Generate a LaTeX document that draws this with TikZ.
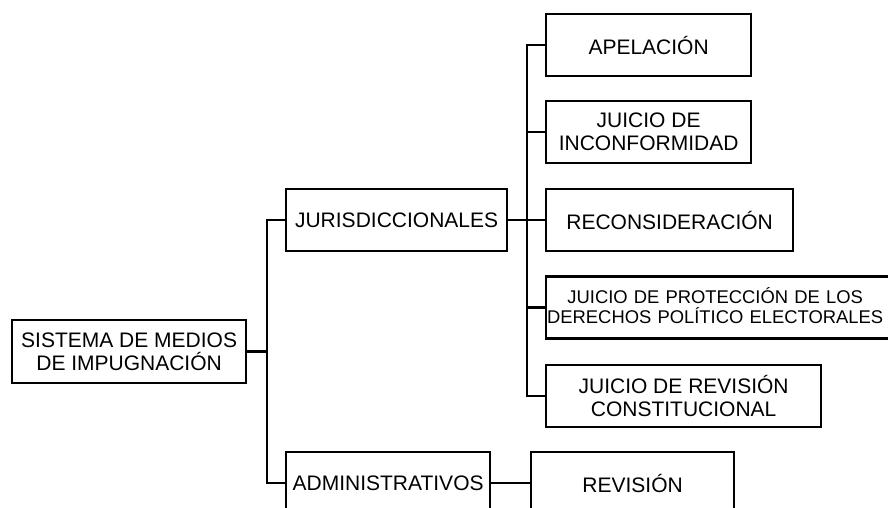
\documentclass[tikz,border=0pt]{standalone}
\usepackage{fontspec}
\setmainfont{Liberation Sans}
\usetikzlibrary{calc}
\tikzset{
    box/.style={draw, line width=2.2pt, anchor=west, minimum height=62pt, inner sep=0pt,
        align=center, font=\fontsize{21}{23}\selectfont},
    link/.style={line width=2.2pt}
}

\begin{document}
\begin{tikzpicture}[x=1pt, y=-1pt]
    \useasboundingbox (0,0) rectangle (888,508);
    \clip (0,0) rectangle (888,508);

    \draw (11,351.5) node[box, minimum width=234pt, minimum height=63pt](sistema){SISTEMA DE MEDIOS\\DE IMPUGNACIÓN};
    \draw (285,220) node[box, minimum width=221pt](juris){JURISDICCIONALES};
    \draw (285,483) node[box, minimum width=204pt](admin){ADMINISTRATIVOS};
    \draw (530,483) node[box, minimum width=203pt](revision){REVISIÓN};

    \draw (545,45) node[box, minimum width=205pt](apelacion){APELACIÓN};
    \draw (545,132) node[box, minimum width=205pt](inconf){JUICIO DE\\INCONFORMIDAD};
    \draw (545,220) node[box, minimum width=247pt](reconsid){RECONSIDERACIÓN};
    \draw (545,307.5) node[box, text width=348pt, inner xsep=1pt, align=left,
        font=\fontsize{18.4}{15}\selectfont](proteccion){\noindent\begin{tabular}{@{}c@{}}JUICIO DE PROTECCIÓN DE LOS\\DERECHOS POLÍTICO ELECTORALES\end{tabular}};
    \draw (545,396) node[box, minimum width=275pt](revconst){JUICIO DE REVISIÓN\\CONSTITUCIONAL};

    \draw[link] (sistema.east) -- ++(20,0) coordinate(tronco);
    \draw[link] (tronco) |- (juris.west);
    \draw[link] (tronco) |- (admin.west);
    \draw[link] (admin.east) -- (revision.west);

    \draw[link] (juris.east) -- ++(19,0) coordinate(rama);
    \draw[link] (rama) |- (apelacion.west);
    \draw[link] (rama) |- (inconf.west);
    \draw[link] (rama) |- (reconsid.west);
    \draw[link] (rama) |- (proteccion.west);
    \draw[link] (rama) |- (revconst.west);
\end{tikzpicture}
\end{document}
